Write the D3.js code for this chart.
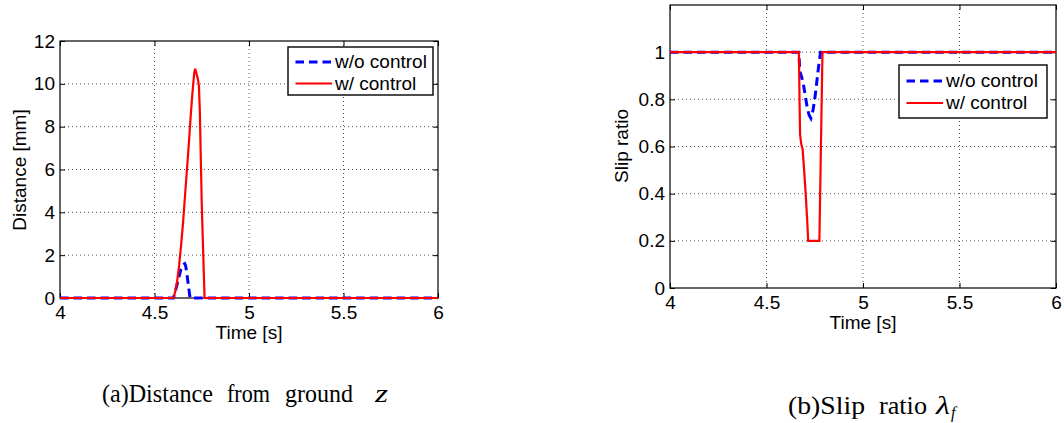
<!DOCTYPE html>
<html>
<head>
<meta charset="utf-8">
<script src="https://cdn.jsdelivr.net/npm/d3@7"></script>
<style>
  body { margin: 0; background: #fff; }
  svg { display: block; }
  .tick text { font-family: "Liberation Sans", Arial, sans-serif; font-size: 19px; fill: #000; }
  .lbl { font-family: "Liberation Sans", Arial, sans-serif; font-size: 19px; fill: #000; }
  .cap { font-family: "Liberation Serif", "Times New Roman", serif; font-size: 25px; fill: #000; }
</style>
</head>
<body>
<svg id="fig" width="1064" height="423"></svg>
<script>
// shared
var timeTicks = [4, 4.5, 5, 5.5, 6];
var legendLabels = ["w/o control", "w/ control"];

// (a) distance from ground [mm]
var distTicks = [0, 2, 4, 6, 8, 10, 12];
var distWithout = [[4, 0], [4.6, 0], [4.61, 0.3], [4.62, 0.65], [4.63, 1.0], [4.64, 1.35], [4.65, 1.55],
    [4.66, 1.6], [4.665, 1.5], [4.67, 1.2], [4.68, 0.55], [4.688, 0], [6, 0]];
var distWith = [[4, 0], [4.6, 0], [4.61, 0.3], [4.62, 0.8], [4.63, 1.5], [4.64, 2.4], [4.65, 3.4],
    [4.66, 4.6], [4.67, 5.8], [4.68, 7.0], [4.69, 8.3], [4.70, 9.5], [4.71, 10.5], [4.715, 10.7],
    [4.72, 10.55], [4.73, 10.2], [4.735, 9.9], [4.74, 8.7], [4.745, 6.5], [4.75, 4.4],
    [4.755, 2.9], [4.76, 1.4], [4.765, 0], [6, 0]];

// (b) slip ratio
var slipTicks = [0, 0.2, 0.4, 0.6, 0.8, 1];
var slipWithout = [[4, 1], [4.668, 1], [4.672, 0.92], [4.68, 0.9], [4.69, 0.87], [4.70, 0.82],
    [4.71, 0.77], [4.72, 0.735], [4.73, 0.72], [4.74, 0.75], [4.75, 0.8], [4.76, 0.87],
    [4.77, 0.94], [4.78, 1], [6, 1]];
var slipWith = [[4, 1], [4.668, 1], [4.671, 0.8], [4.674, 0.65], [4.68, 0.61], [4.687, 0.59],
    [4.695, 0.5], [4.703, 0.4], [4.71, 0.3], [4.716, 0.2], [4.774, 0.2], [4.79, 1], [6, 1]];

var svg = d3.select("#fig");

function panel(p) {
    var x = d3.scaleLinear().domain([4, 6]).range([p.left, p.right]);
    var y = d3.scaleLinear().domain(p.ydom).range([p.bottom, p.top]);
    var g = svg.append("g");

    // dotted grid
    g.append("g").selectAll("line")
        .data(timeTicks.slice(1, -1))
        .enter().append("line")
        .attr("x1", function (d) { return x(d); })
        .attr("x2", function (d) { return x(d); })
        .attr("y1", p.top).attr("y2", p.bottom)
        .attr("stroke", "#555").attr("stroke-dasharray", "1,3");
    g.append("g").selectAll("line")
        .data(p.yticks.filter(function (d) { return d > p.ydom[0] && d < p.ydom[1]; }))
        .enter().append("line")
        .attr("y1", function (d) { return y(d); })
        .attr("y2", function (d) { return y(d); })
        .attr("x1", p.left).attr("x2", p.right)
        .attr("stroke", "#555").attr("stroke-dasharray", "1,3");

    // axes, ticks pointing inwards
    g.append("g").attr("transform", "translate(0," + p.bottom + ")")
        .call(d3.axisBottom(x).tickValues(timeTicks).tickSize(-5).tickPadding(7.5).tickFormat(d3.format("")));
    g.append("g").attr("transform", "translate(0," + p.top + ")")
        .call(d3.axisTop(x).tickValues(timeTicks).tickSize(-5).tickFormat(""));
    g.append("g").attr("transform", "translate(" + p.left + ",0)")
        .call(d3.axisLeft(y).tickValues(p.yticks).tickSize(-5).tickPadding(5).tickFormat(d3.format("")));
    g.append("g").attr("transform", "translate(" + p.right + ",0)")
        .call(d3.axisRight(y).tickValues(p.yticks).tickSize(-5).tickFormat(""));
    g.selectAll(".domain").remove();
    g.selectAll(".tick line").attr("stroke", "#000");

    g.append("rect")
        .attr("x", p.left).attr("y", p.top)
        .attr("width", p.right - p.left).attr("height", p.bottom - p.top)
        .attr("fill", "none").attr("stroke", "#000").attr("stroke-width", 1.2);

    var line = d3.line()
        .x(function (d) { return x(d[0]); })
        .y(function (d) { return y(d[1]); });

    g.append("path").datum(p.without).attr("d", line)
        .attr("fill", "none").attr("stroke", "#0000ff").attr("stroke-width", 3)
        .attr("stroke-dasharray", "8.5,5");
    g.append("path").datum(p.withc).attr("d", line)
        .attr("fill", "none").attr("stroke", "#ff0000").attr("stroke-width", 2.2);

    // axis titles
    g.append("text").attr("class", "lbl")
        .attr("x", (p.left + p.right) / 2).attr("y", p.bottom + 40.5)
        .attr("text-anchor", "middle").text("Time [s]");
    g.append("text").attr("class", "lbl")
        .attr("transform", "translate(" + p.ytx + "," + p.yty + ") rotate(-90)")
        .attr("text-anchor", "middle").text(p.ylabel);

    // legend
    var L = p.legend;
    g.append("rect").attr("x", L.x).attr("y", L.y).attr("width", L.w).attr("height", L.h)
        .attr("fill", "#fff").attr("stroke", "#000").attr("stroke-width", 1.4);
    var styles = [{ c: "#0000ff", w: 3, dash: "8.5,5" }, { c: "#ff0000", w: 2.2, dash: null }];
    legendLabels.forEach(function (name, i) {
        var ly = L.y + L.first + i * L.step;
        g.append("line").attr("x1", L.x + 7.5).attr("x2", L.x + 44)
            .attr("y1", ly).attr("y2", ly)
            .attr("stroke", styles[i].c).attr("stroke-width", styles[i].w)
            .attr("stroke-dasharray", styles[i].dash);
        g.append("text").attr("class", "lbl")
            .attr("x", L.x + 47).attr("y", ly + 6).text(name);
    });
}

panel({
    left: 60, right: 438, top: 41, bottom: 298,
    ydom: [0, 12], yticks: distTicks,
    without: distWithout, withc: distWith,
    ylabel: "Distance [mm]", ytx: 26, yty: 170,
    legend: { x: 288, y: 47, w: 145, h: 48, first: 15, step: 21.5 }
});

panel({
    left: 670, right: 1056, top: 5, bottom: 288,
    ydom: [0, 1.2], yticks: slipTicks,
    without: slipWithout, withc: slipWith,
    ylabel: "Slip ratio", ytx: 628, yty: 146,
    legend: { x: 899, y: 65, w: 148, h: 53, first: 16, step: 22 }
});

// captions (each word fitted to the width it has in the figure)
function word(t, x, w) {
    return t.append("tspan").attr("x", x).attr("textLength", w).attr("lengthAdjust", "spacingAndGlyphs");
}
var capA = svg.append("text").attr("class", "cap").attr("y", 402);
word(capA, 102, 111).text("(a)Distance");
word(capA, 227, 43).text("from");
word(capA, 285, 68).text("ground");
word(capA, 375, 13).attr("font-style", "italic").text("z");

var capB = svg.append("text").attr("class", "cap").attr("y", 414);
word(capB, 788, 77).text("(b)Slip");
word(capB, 879, 48).text("ratio");
word(capB, 936, 14).attr("font-style", "italic").text("λ");
capB.append("tspan").attr("x", 951).attr("y", 418).attr("font-size", "16px").attr("font-style", "italic").text("f");
</script>
</body>
</html>
